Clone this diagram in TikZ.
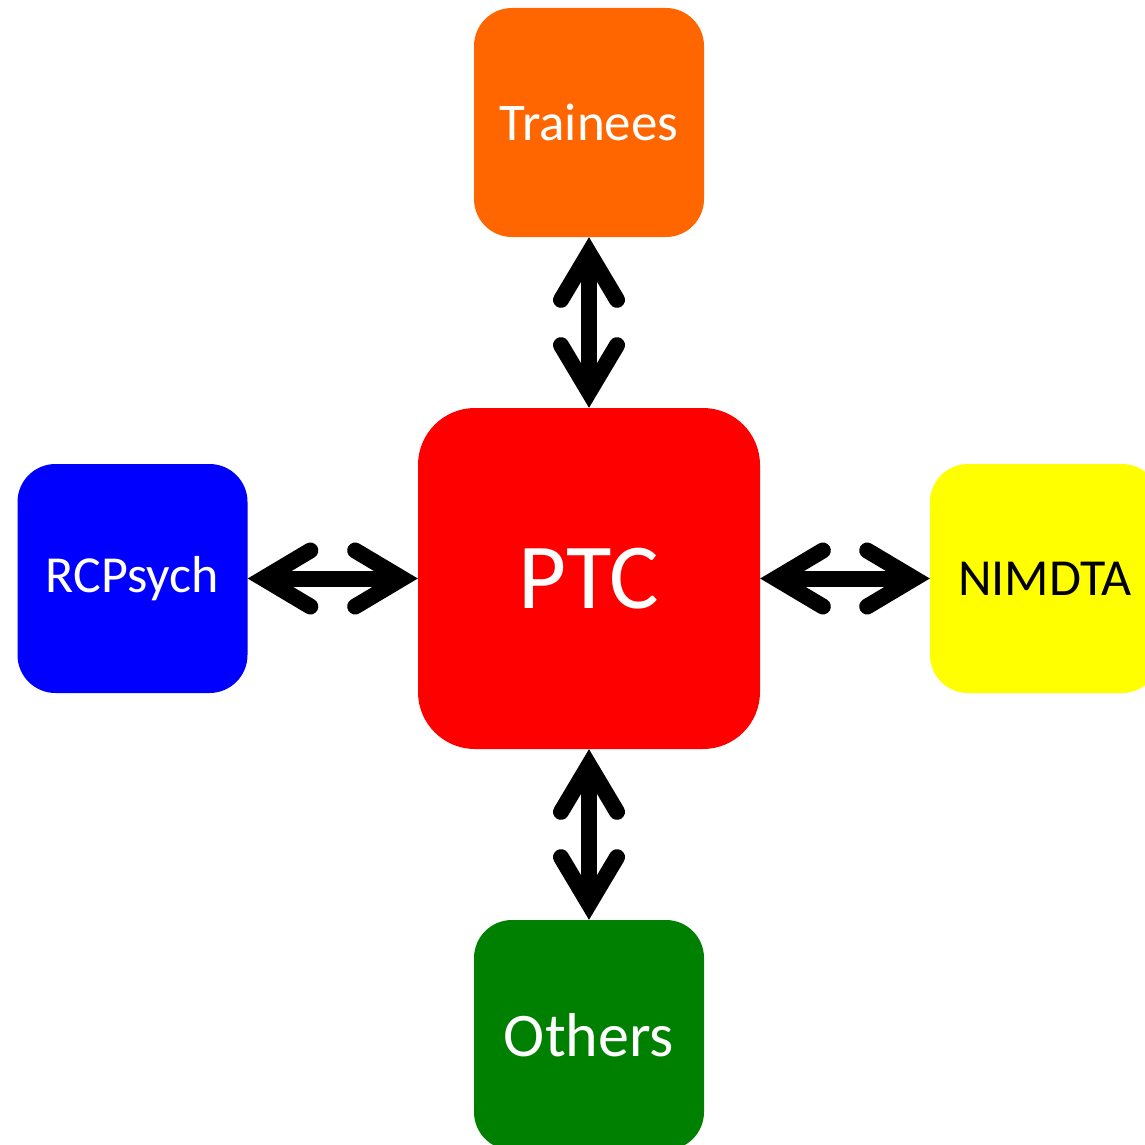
\documentclass[tikz,border=0pt]{standalone}
\usepackage{fontspec}
\setmainfont{Carlito}
\usetikzlibrary{arrows.meta}
\definecolor{orng}{HTML}{FF6600}
\definecolor{rd}{HTML}{FF0000}
\definecolor{bl}{HTML}{0000FF}
\definecolor{yl}{HTML}{FFFF00}
\definecolor{gr}{HTML}{008000}
\tikzset{
  box/.style={rectangle, inner sep=0pt, minimum width=230pt, minimum height=229pt,
    rounded corners=38pt, text=white, font=\fontsize{52}{60}\selectfont},
  bigbox/.style={box, minimum width=342pt, minimum height=341pt, rounded corners=57pt,
    font=\fontsize{93}{100}\selectfont},
  barb/.tip={Straight Barb[length=47pt, width=56pt, line cap=round]},
  conn/.style={line width=16pt, barb-barb, shorten <=0pt, shorten >=0pt}
}
\begin{document}
\begin{tikzpicture}[x=1pt, y=-1pt]
\useasboundingbox (0,0) rectangle (1145,1145);
\clip (0,0) rectangle (1145,1145);
\node[box, fill=orng, font=\fontsize{53}{60}\selectfont] (trainees) at (589,122.5) {Trainees};
\node[bigbox, fill=rd] (ptc) at (589,578.5) {PTC};
\node[box, fill=bl] (rcp) at (132.5,578.5) {RCPsych};
\node[box, fill=yl, text=black] (nim) at (1045,578.5) {NIMDTA};
\node[box, fill=gr, minimum height=230pt, font=\fontsize{62}{70}\selectfont] (oth) at (589,1035) {Others};
\draw[conn] (ptc.north) -- (trainees.south);
\draw[conn] (ptc.south) -- (oth.north);
\draw[conn] (ptc.west) -- (rcp.east);
\draw[conn] (ptc.east) -- (nim.west);
\end{tikzpicture}
\end{document}
